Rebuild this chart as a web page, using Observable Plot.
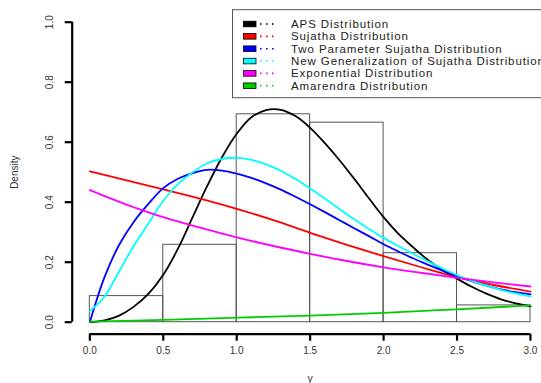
<!DOCTYPE html>
<html>
<head>
<meta charset="utf-8">
<script src="https://cdn.jsdelivr.net/npm/d3@7"></script>
<script src="https://cdn.jsdelivr.net/npm/@observablehq/plot@0.6"></script>
<style>
  html, body { margin: 0; padding: 0; background: #fff; overflow: hidden; }
  #chart { width: 541px; height: 383px; overflow: hidden; }
  #chart svg { max-width: none !important; }
</style>
</head>
<body>
<div id="chart"></div>
<script>
// ---- data ----
const binEdges   = [0, 0.5, 1.0, 1.5, 2.0, 2.5, 3.0];
const binHeights = [0.087, 0.258, 0.693, 0.665, 0.230, 0.056];

const curveX = [0,0.1,0.2,0.3,0.4,0.5,0.6,0.7,0.8,0.9,1.0,1.1,1.2,1.3,1.4,1.5,1.6,1.7,1.8,1.9,2.0,2.1,2.2,2.3,2.4,2.5,2.6,2.7,2.8,2.9,3.0];
const apsY    = [0,0.006,0.022,0.052,0.095,0.158,0.245,0.35,0.455,0.55,0.628,0.683,0.707,0.708,0.687,0.648,0.597,0.54,0.478,0.413,0.35,0.295,0.25,0.208,0.174,0.145,0.118,0.095,0.076,0.063,0.053];
const twoParY = [0,0.15,0.258,0.335,0.395,0.447,0.478,0.497,0.508,0.505,0.495,0.481,0.463,0.442,0.418,0.393,0.367,0.34,0.313,0.287,0.26,0.236,0.213,0.192,0.172,0.153,0.137,0.122,0.109,0.10,0.093];
const newGenY = [0.037,0.085,0.17,0.255,0.33,0.405,0.46,0.50,0.53,0.544,0.548,0.541,0.526,0.505,0.477,0.446,0.412,0.377,0.343,0.311,0.281,0.254,0.228,0.203,0.179,0.157,0.138,0.122,0.108,0.096,0.086];

const lineX    = [0,0.25,0.5,0.75,1.0,1.25,1.5,1.75,2.0,2.25,2.5,2.75,3.0];
const sujathaY = [0.503,0.473,0.443,0.412,0.378,0.34,0.298,0.258,0.22,0.184,0.15,0.124,0.102];
const expoY    = [0.44,0.392,0.35,0.315,0.283,0.254,0.228,0.204,0.183,0.165,0.148,0.133,0.119];

const amarX = [0,0.5,1.0,1.5,2.0,2.5,3.0];
const amarY = [0.002,0.008,0.015,0.022,0.031,0.043,0.056];

const seriesNames  = ["APS Distribution","Sujatha Distribution","Two Parameter Sujatha Distribution","New Generalization of Sujatha Distribution","Exponential Distribution","Amarendra Distribution"];
const seriesColors = ["#000000","#ff0000","#0000ff","#00ffff","#ff00ff","#00cd00"];

const xTicks = [0,0.5,1.0,1.5,2.0,2.5,3.0];
const yTicks = [0,0.2,0.4,0.6,0.8,1.0];
const xLabel = "y";
const yLabel = "Density";

// ---- build tables ----
const bins = binHeights.map((h,i)=>({x1: binEdges[i], x2: binEdges[i+1], y: h}));
const toPts = (xs, ys) => xs.map((x,i)=>({x, y: ys[i]}));
const curves = [
  toPts(curveX, apsY),
  toPts(lineX, sujathaY),
  toPts(curveX, twoParY),
  toPts(curveX, newGenY),
  toPts(lineX, expoY),
  toPts(amarX, amarY)
];

const xPad = (xTicks.at(-1) - xTicks[0]) * 0.04;
const yPad = (yTicks.at(-1) - yTicks[0]) * 0.04;
const xDom = [xTicks[0] - xPad, xTicks.at(-1) + xPad];
const yDom = [yTicks[0] - yPad, yTicks.at(-1) + yPad];

const font = "'Liberation Sans', Arial, Helvetica, sans-serif";

const marks = [
  Plot.rectY(bins, {x1:"x1", x2:"x2", y:"y", fill:"none", stroke:"#555", strokeWidth:1}),
  ...curves.map((c,i)=>Plot.line(c, {x:"x", y:"y", stroke: seriesColors[i], strokeWidth:1.8, curve:"catmull-rom"})),
  // axis lines (R style: span ticks only)
  Plot.ruleX([xDom[0]], {y1: () => yTicks[0], y2: () => yTicks.at(-1), stroke:"#000", strokeWidth:2.2}),
  Plot.ruleY([yDom[0]], {x1: () => xTicks[0], x2: () => xTicks.at(-1), stroke:"#000", strokeWidth:2.2}),
  Plot.axisY(yTicks, {anchor:"left", tickSize:7, tickPadding:12, tickRotate:-90, tickFormat: d=>d.toFixed(1), fontSize:10, fill:"#333", stroke:"#000", strokeWidth:2.2, label:null}),
  Plot.axisX(xTicks, {anchor:"bottom", tickSize:7, tickPadding:6, tickFormat: d=>d.toFixed(1), fontSize:10, fill:"#333", stroke:"#000", strokeWidth:2.2, label:null}),
  Plot.text([yLabel], {frameAnchor:"left", dx:-57, rotate:-90, fontSize:10, fill:"#333", textAnchor:"middle", lineAnchor:"middle"}),
  Plot.text([xLabel], {frameAnchor:"bottom", dy:44, fontSize:10.5, fill:"#333", textAnchor:"middle", lineAnchor:"middle"})
];

const W = 548, H = 383;
const svg = Plot.plot({
  width: W, height: H,
  marginLeft: 71.7, marginRight: W - 547.6, marginTop: 9.7, marginBottom: H - 333.7,
  x: {domain: xDom},
  y: {domain: yDom},
  style: {fontFamily: font, background: "#fff", overflow: "visible", maxWidth: "none"},
  marks
});
document.getElementById("chart").appendChild(svg);

// ---- legend (top-right of plotting region, like R's legend("topright")) ----
const s = d3.select(svg);
const lg = s.append("g").attr("font-family", font).attr("text-anchor", "start");
lg.append("rect").attr("x", 232.5).attr("y", 9.7).attr("width", 340).attr("height", 88)
  .attr("fill", "#fff").attr("stroke", "#555").attr("stroke-width", 1);
seriesNames.forEach((name, i) => {
  const cy = 24 + i * 12.35;
  lg.append("rect").attr("x", 243.5).attr("y", cy - 2.8).attr("width", 12.5).attr("height", 5.6)
    .attr("fill", seriesColors[i]).attr("stroke", "#000").attr("stroke-width", 0.8);
  lg.append("line").attr("x1", 260).attr("x2", 278).attr("y1", cy).attr("y2", cy)
    .attr("stroke", seriesColors[i]).attr("stroke-width", 1.6).attr("stroke-dasharray", "1.6 4.4");
  lg.append("text").attr("x", 291).attr("y", cy).attr("dy", "0.35em").attr("text-anchor", "start")
    .attr("font-size", 11.5).attr("letter-spacing", "0.9px").attr("fill", "#222").text(name);
});
</script>
</body>
</html>
